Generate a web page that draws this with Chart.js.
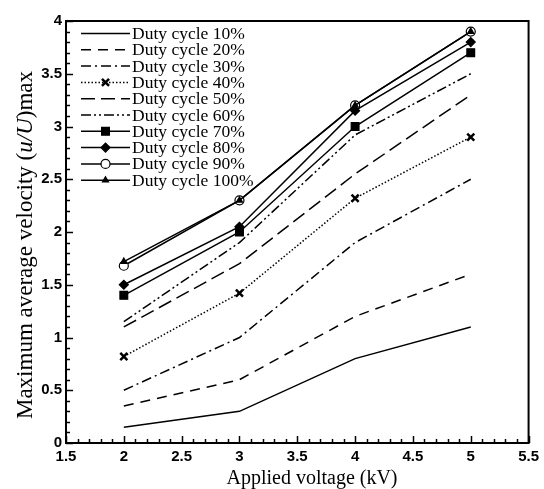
<!DOCTYPE html>
<html>
<head>
<meta charset="utf-8">
<script src="https://cdn.jsdelivr.net/npm/chart.js@4"></script>
<style>
  html, body { margin: 0; padding: 0; background: #fff; }
  #wrap { width: 544px; height: 489px; }
</style>
</head>
<body>
<div id="wrap"><canvas id="chart"></canvas></div>
<script>
// values
const voltages = [2, 3, 4, 5];
const duty10 = [0.15, 0.3, 0.8, 1.1];
const duty20 = [0.35, 0.6, 1.2, 1.6];
const duty30 = [0.5, 1.0, 1.9, 2.5];
const duty40 = [0.82, 1.42, 2.32, 2.9];
const duty50 = [1.1, 1.7, 2.55, 3.3];
const duty60 = [1.15, 1.9, 2.92, 3.5];
const duty70 = [1.4, 2.0, 3.0, 3.7];
const duty80 = [1.5, 2.05, 3.15, 3.8];
const duty90 = [1.68, 2.3, 3.2, 3.9];
const duty100 = [1.72, 2.3, 3.2, 3.9];
const seriesNames = ['Duty cycle 10%', 'Duty cycle 20%', 'Duty cycle 30%', 'Duty cycle 40%', 'Duty cycle 50%',
  'Duty cycle 60%', 'Duty cycle 70%', 'Duty cycle 80%', 'Duty cycle 90%', 'Duty cycle 100%'];
const xTitle = 'Applied voltage (kV)';
const yTitleParts = ['Maximum average velocity (', 'u/U', ')max'];

const allSeries = [duty10, duty20, duty30, duty40, duty50, duty60, duty70, duty80, duty90, duty100];

// line and marker look for each series
const looks = [
  { dash: [], point: false },
  { dash: [10, 7] },
  { dash: [10, 4, 2, 4] },
  { dash: [1.5, 2], point: 'crossRot', r: 5, bw: 2.5 },
  { dash: [14, 6] },
  { dash: [10, 3, 2, 3, 2, 3] },
  { dash: [], point: 'rect', r: 5.5 },
  { dash: [], point: 'rectRot', r: 4.5 },
  { dash: [], point: 'circle', r: 4.5, fill: '#fff' },
  { dash: [], point: 'triangle', r: 3.5 }
];

const datasets = allSeries.map((vals, i) => {
  const lk = looks[i];
  return {
    label: seriesNames[i],
    data: vals.map((v, j) => ({ x: voltages[j], y: v })),
    borderColor: '#000',
    borderWidth: 1.5,
    borderDash: lk.dash,
    backgroundColor: lk.fill || '#000',
    pointStyle: lk.point || 'circle',
    pointRadius: lk.point ? lk.r : 0,
    pointBorderWidth: lk.bw || 1.2,
    pointBorderColor: '#000',
    pointBackgroundColor: lk.fill || '#000',
    order: i == 9 ? -1 : i,
    tension: 0
  };
});

const frame = {
  id: 'frame',
  afterDatasetsDraw(chart) {
    const ctx = chart.ctx;
    const a = chart.chartArea;
    const xs = chart.scales.x, ys = chart.scales.y;
    ctx.save();
    ctx.strokeStyle = '#000';
    ctx.lineWidth = 2;
    ctx.strokeRect(a.left, a.top, a.right - a.left, a.bottom - a.top);
    ctx.lineWidth = 1.5;
    // inward ticks, major every 0.5 minor every 0.1
    for (let k = 15; k <= 55; k++) {
      const px = Math.round(xs.getPixelForValue(k / 10)) + 0.5;
      const len = k % 5 == 0 ? 7 : 4;
      ctx.beginPath();
      ctx.moveTo(px, a.bottom);
      ctx.lineTo(px, a.bottom - len);
      ctx.stroke();
    }
    for (let k = 0; k <= 40; k++) {
      const py = Math.round(ys.getPixelForValue(k / 10)) + 0.5;
      const len = k % 5 == 0 ? 7 : 4;
      ctx.beginPath();
      ctx.moveTo(a.left, py);
      ctx.lineTo(a.left + len, py);
      ctx.stroke();
    }

    // legend
    ctx.font = '17.5px "Liberation Serif"';
    ctx.textBaseline = 'middle';
    ctx.fillStyle = '#000';
    chart.data.datasets.forEach((ds, i) => {
      const y = 33.5 + i * 16.3;
      ctx.save();
      ctx.lineWidth = 1.5;
      ctx.setLineDash(ds.borderDash);
      ctx.beginPath();
      ctx.moveTo(81, y);
      ctx.lineTo(130, y);
      ctx.stroke();
      ctx.restore();
      if (ds.pointRadius > 0) {
        ctx.save();
        ctx.fillStyle = ds.pointBackgroundColor;
        ctx.strokeStyle = '#000';
        ctx.lineWidth = ds.pointBorderWidth;
        Chart.helpers.drawPoint(ctx, { pointStyle: ds.pointStyle, radius: ds.pointRadius, rotation: 0, borderWidth: ds.pointBorderWidth }, 105.5, y);
        ctx.restore();
      }
      ctx.fillText(ds.label, 132, y + 1);
    });

    // axis titles
    ctx.textBaseline = 'alphabetic';
    ctx.font = '20px "Liberation Serif"';
    ctx.textAlign = 'center';
    ctx.fillText(xTitle, 312, 484);

    ctx.translate(32, 245);
    ctx.rotate(-Math.PI / 2);
    const fonts = ['23px "Liberation Serif"', 'italic 23px "Liberation Serif"', '23px "Liberation Serif"'];
    let total = 0;
    const widths = yTitleParts.map((t, i) => { ctx.font = fonts[i]; const w = ctx.measureText(t).width; total += w; return w; });
    let x0 = -total / 2;
    ctx.textAlign = 'left';
    yTitleParts.forEach((t, i) => {
      ctx.font = fonts[i];
      ctx.fillText(t, x0, 0);
      x0 += widths[i];
    });
    ctx.restore();
  }
};

new Chart(document.getElementById('chart'), {
  type: 'line',
  data: { datasets: datasets },
  options: {
    responsive: true,
    maintainAspectRatio: false,
    animation: false,
    layout: { padding: { top: 21, right: 13, left: 0, bottom: 0 } },
    plugins: {
      legend: { display: false },
      tooltip: { enabled: false }
    },
    scales: {
      x: {
        type: 'linear',
        min: 1.5,
        max: 5.5,
        afterFit: s => { s.height = 46; },
        grid: { display: false, drawTicks: false },
        border: { display: false },
        ticks: {
          stepSize: 0.5,
          padding: 5,
          color: '#000',
          font: { family: '"Liberation Sans"', size: 15, weight: 'bold' },
          maxRotation: 0,
          autoSkip: false,
          callback: v => String(v)
        }
      },
      y: {
        min: 0,
        max: 4,
        afterFit: s => { s.width = 66; },
        grid: { display: false, drawTicks: false },
        border: { display: false },
        ticks: {
          stepSize: 0.5,
          padding: 4,
          color: '#000',
          font: { family: '"Liberation Sans"', size: 15, weight: 'bold' },
          callback: v => String(v)
        }
      }
    }
  },
  plugins: [frame]
});
</script>
</body>
</html>
